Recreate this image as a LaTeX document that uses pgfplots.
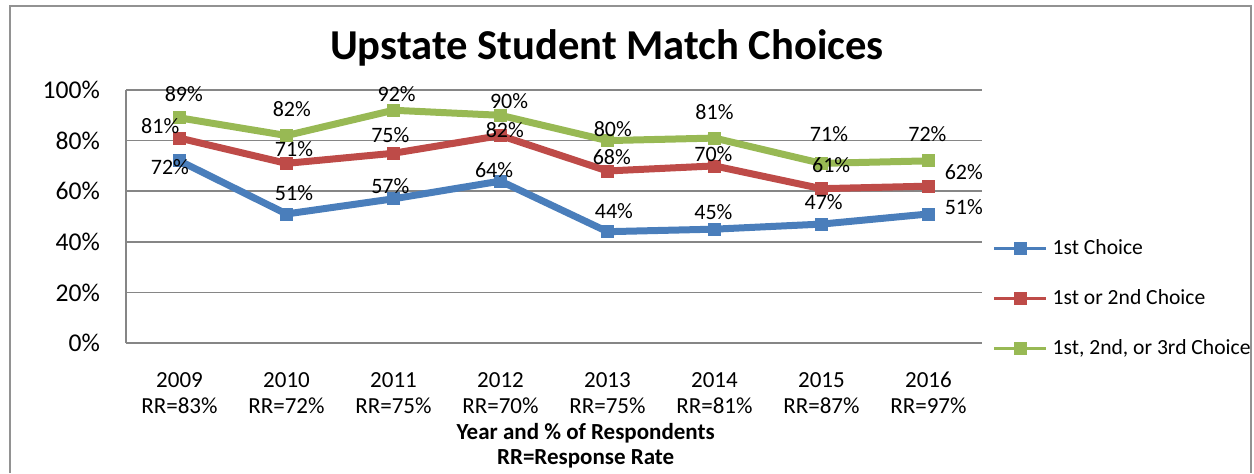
\documentclass[border=0pt]{standalone}
\usepackage{fontspec}
\setmainfont{Carlito}
\usepackage{pgfplots}
\pgfplotsset{compat=1.18}
\definecolor{cblue}{HTML}{4A7EBB}
\definecolor{cred}{HTML}{BE4B48}
\definecolor{cgreen}{HTML}{98B954}
\definecolor{cgrid}{HTML}{868686}
\begin{document}
\begin{tikzpicture}
\useasboundingbox (0,0) rectangle (627pt,-236.5pt);
\draw[color=cgrid!90, line width=1.2pt] (5pt,-236.5pt) -- (5pt,-3pt) -- (625.5pt,-3pt) -- (625.5pt,-236.5pt);
\node[font=\fontsize{21.3}{25}\selectfont\bfseries] at (303.5pt,-24pt) {Upstate Student Match Choices};
\begin{axis}[
  clip=false,
  at={(63pt,-45pt)}, anchor=north west,
  scale only axis, width=428pt, height=126.5pt,
  xmin=-0.5, xmax=7.5, ymin=0, ymax=100,
  axis x line*=bottom, axis y line*=left,
  axis line style={cgrid, line width=0.8pt},
  major tick length=0pt,
  ymajorgrids, grid style={cgrid, line width=0.8pt},
  xtick={0,...,7},
  xticklabels={2009\\RR=83\%,2010\\RR=72\%,2011\\RR=75\%,2012\\RR=70\%,2013\\RR=75\%,2014\\RR=81\%,2015\\RR=87\%,2016\\RR=97\%},
  ytick={0,20,40,60,80,100},
  yticklabels={0\%,20\%,40\%,60\%,80\%,100\%},
  xticklabel style={align=center, anchor=center, yshift=-25pt, font=\fontsize{11.5}{13}\selectfont},
  yticklabel style={anchor=east, xshift=-9.5pt, font=\fontsize{12.8}{14}\selectfont},
  xlabel={Year and \% of Respondents\\RR=Response Rate},
  xlabel style={at={(axis description cs:0.537,-0.405)}, anchor=center, align=center, font=\fontsize{11.5}{12.5}\selectfont\bfseries},
  legend style={at={(1.012,0.176)}, anchor=west, draw=none, fill=none, font=\fontsize{10.8}{13}\selectfont, row sep=11pt, inner sep=0pt, nodes={inner sep=2.5pt}},
  legend cell align=left,
  legend image code/.code={\draw[mark repeat=2,mark phase=2,#1,line width=1.5pt] plot coordinates {(0pt,0pt) (13pt,0pt) (26pt,0pt)};},
  every axis plot/.append style={line width=3.5pt, mark=square*, mark size=3pt, mark options={solid, line width=0.4pt}},
]
\addplot[color=cblue] coordinates {(0,72) (1,51) (2,57) (3,64) (4,44) (5,45) (6,47) (7,51)};
\addlegendentry{1st Choice}
\addplot[color=cred] coordinates {(0,81) (1,71) (2,75) (3,82) (4,68) (5,70) (6,61) (7,62)};
\addlegendentry{1st or 2nd Choice}
\addplot[color=cgreen] coordinates {(0,89) (1,82) (2,92) (3,90) (4,80) (5,81) (6,71) (7,72)};
\addlegendentry{1st, 2nd, or 3rd Choice}
% data labels (text positions)
\addplot[forget plot, draw=none, mark=none, nodes near coords, point meta=explicit symbolic,
  nodes near coords style={anchor=center, text=black, inner sep=0pt, font=\fontsize{11}{13}\selectfont}]
  coordinates {
  (0.04,98.4) [89\%] (1.05,92.5) [82\%] (2.03,98.4) [92\%] (3.08,95.7) [90\%]
  (4.05,84.6) [80\%] (5.0,91.3) [81\%] (6.07,82.6) [71\%] (6.99,82.6) [72\%]
  (-0.18,85.8) [81\%] (1.07,76.7) [71\%] (1.97,82.2) [75\%] (3.04,84.2) [82\%]
  (4.04,73.5) [68\%] (4.99,74.7) [70\%] (6.09,70.4) [61\%] (7.33,67.6) [62\%]
  (-0.09,69.6) [72\%] (1.07,59.3) [51\%] (1.97,62.1) [57\%] (2.94,68.4) [64\%]
  (4.06,52.2) [44\%] (4.99,51.8) [45\%] (6.02,55.7) [47\%] (7.33,53.8) [51\%]
  };
\end{axis}
\end{tikzpicture}
\end{document}
